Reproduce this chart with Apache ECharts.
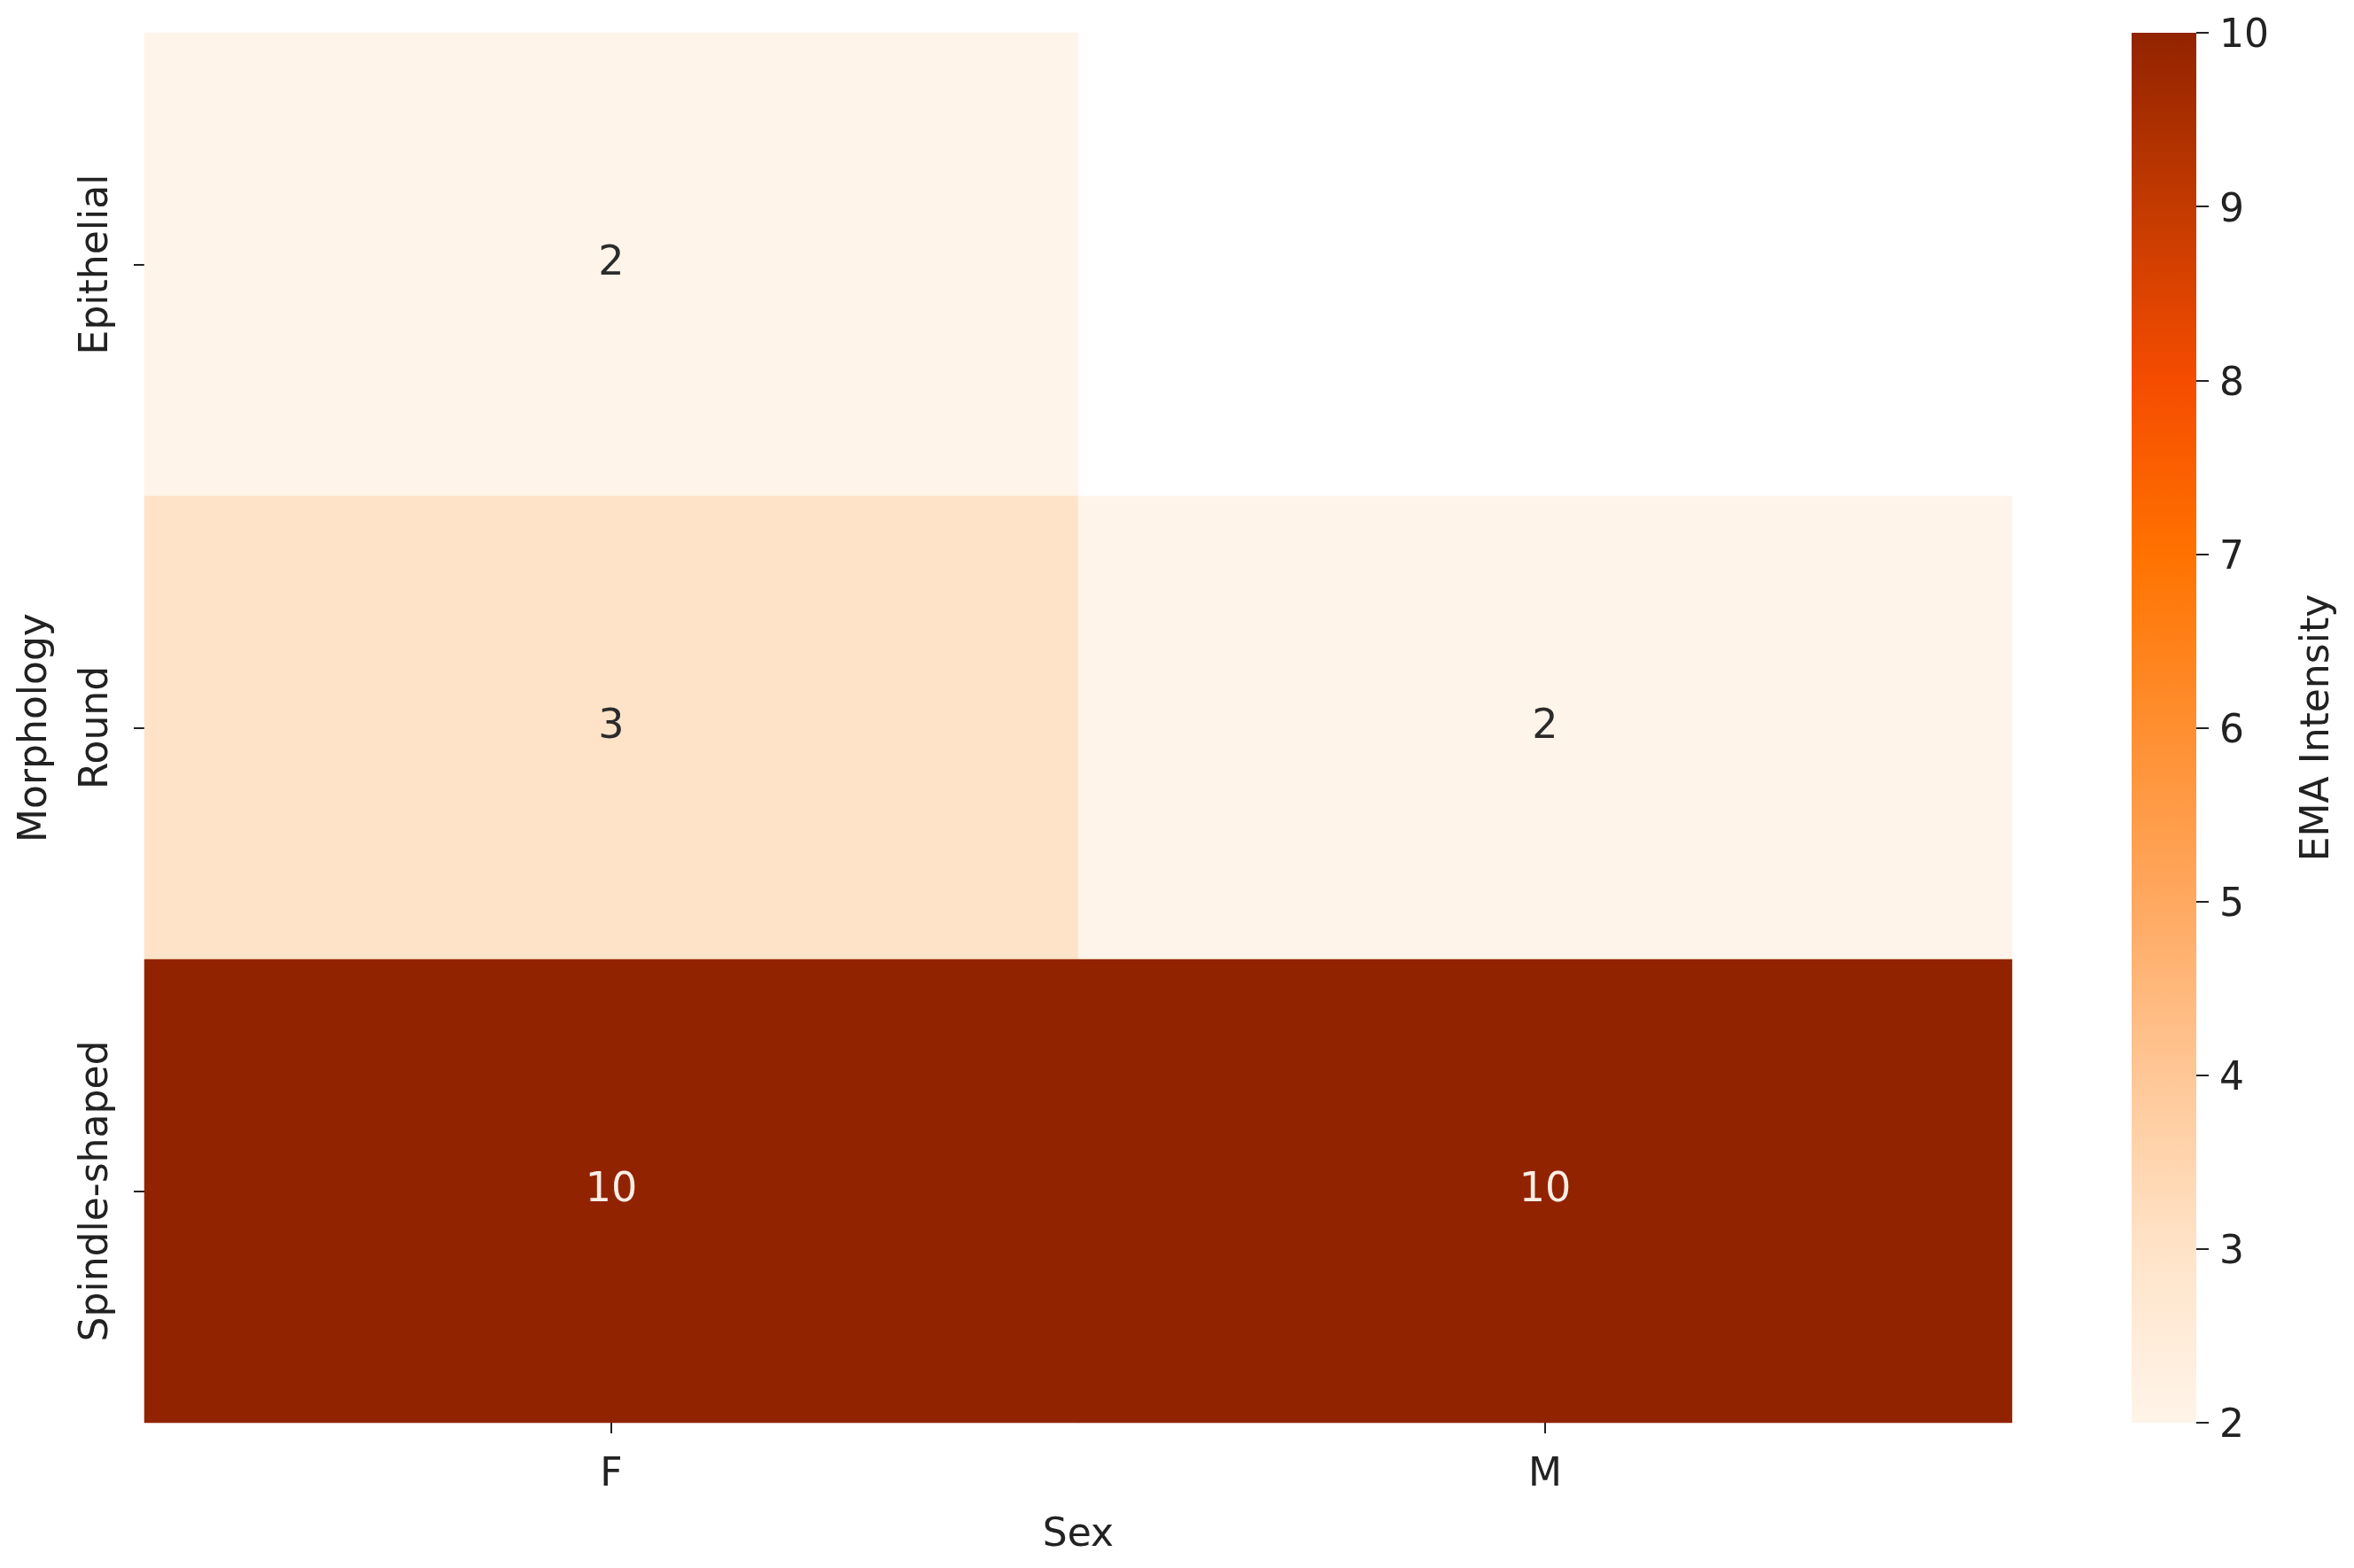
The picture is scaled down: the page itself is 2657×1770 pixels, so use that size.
<!DOCTYPE html>
<html>
<head>
<meta charset="utf-8">
<script src="https://cdn.jsdelivr.net/npm/echarts@6/dist/echarts.min.js"></script>
<style>
html,body{margin:0;padding:0;background:#fff;}
#chart{width:2657px;height:1770px;}
</style>
</head>
<body>
<div id="chart"></div>
<script>
// ---- data ----
const sexCategories = ['F', 'M'];
const morphologyCategories = ['Epithelial', 'Round', 'Spindle-shaped'];
// values per morphology row, per sex column (null = no data)
const epithelialValues = [2, null];
const roundValues = [3, 2];
const spindleValues = [10, 10];
const colorbarMin = 2;
const colorbarMax = 10;
const colorbarStep = 1;
const colorStops = ['#fff4e9', '#ffe3c8', '#ffc796', '#ffa860', '#ff8f30', '#ff7200', '#f54c00', '#c33a00', '#922300'];

const rows = [epithelialValues, roundValues, spindleValues];
const heatData = [];
rows.forEach((row, yi) => {
  row.forEach((v, xi) => {
    if (v === null) return;
    heatData.push({
      value: [xi, yi, v],
      label: { color: v >= 7 ? '#fbeee6' : '#2b2b2b' }
    });
  });
});

const FONT = 'DejaVu Sans';
const TXT = '#222222';
const chart = echarts.init(document.getElementById('chart'));
chart.setOption({
  backgroundColor: '#ffffff',
  animation: false,
  grid: [
    { left: 163, top: 37, width: 2108, height: 1569 },
    { left: 2406, top: 37, width: 73, height: 1569 }
  ],
  xAxis: [
    {
      gridIndex: 0, type: 'category', data: sexCategories,
      name: 'Sex', nameLocation: 'middle', nameGap: 106,
      nameTextStyle: { fontFamily: FONT, fontSize: 44, color: TXT },
      axisLine: { show: false },
      axisTick: { show: true, alignWithLabel: true, length: 12, lineStyle: { color: '#222', width: 2 } },
      axisLabel: { fontFamily: FONT, fontSize: 44, color: TXT, margin: 38 },
      splitLine: { show: false }
    },
    { gridIndex: 1, type: 'value', show: false, min: 0, max: 1 }
  ],
  yAxis: [
    {
      gridIndex: 0, type: 'category', data: morphologyCategories, inverse: true,
      name: 'Morphology', nameLocation: 'middle', nameGap: 100, nameRotate: 90,
      nameTextStyle: { fontFamily: FONT, fontSize: 44, color: TXT },
      axisLine: { show: false },
      axisTick: { show: true, alignWithLabel: true, length: 12, lineStyle: { color: '#222', width: 2 } },
      axisLabel: { fontFamily: FONT, fontSize: 44, color: TXT, rotate: 90, margin: 31 },
      splitLine: { show: false }
    },
    {
      gridIndex: 1, type: 'value', min: colorbarMin, max: colorbarMax, interval: colorbarStep, position: 'right',
      name: 'EMA Intensity', nameLocation: 'middle', nameGap: 116, nameRotate: 90,
      nameTextStyle: { fontFamily: FONT, fontSize: 44, color: TXT },
      axisLine: { show: false, onZero: false },
      axisTick: { show: true, inside: false, length: 14, lineStyle: { color: '#222', width: 2 } },
      axisLabel: { fontFamily: FONT, fontSize: 44, color: TXT, margin: 26, verticalAlign: 'top', lineHeight: 10 },
      splitLine: { show: false }
    }
  ],
  visualMap: {
    type: 'continuous', min: colorbarMin, max: colorbarMax, show: false, seriesIndex: 0,
    inRange: { color: colorStops }
  },
  series: [
    {
      type: 'heatmap', xAxisIndex: 0, yAxisIndex: 0, data: heatData,
      label: { show: true, fontFamily: FONT, fontSize: 46, formatter: p => p.value[2] },
      itemStyle: { borderWidth: 0 },
      emphasis: { disabled: true }
    },
    {
      // colour bar: one rectangle spanning the colour scale, placed by the colour-bar axes
      type: 'custom', xAxisIndex: 1, yAxisIndex: 1, silent: true,
      data: [[0, colorbarMin, 1, colorbarMax]],
      renderItem: function (params, api) {
        const p0 = api.coord([api.value(0), api.value(1)]);
        const p1 = api.coord([api.value(2), api.value(3)]);
        const stops = colorStops.map((c, i) => ({ offset: 1 - i / (colorStops.length - 1), color: c }));
        return {
          type: 'rect',
          shape: { x: p0[0], y: p1[1], width: p1[0] - p0[0], height: p0[1] - p1[1] },
          style: { fill: new echarts.graphic.LinearGradient(0, 0, 0, 1, stops.reverse()) }
        };
      }
    }
  ]
});
</script>
</body>
</html>
